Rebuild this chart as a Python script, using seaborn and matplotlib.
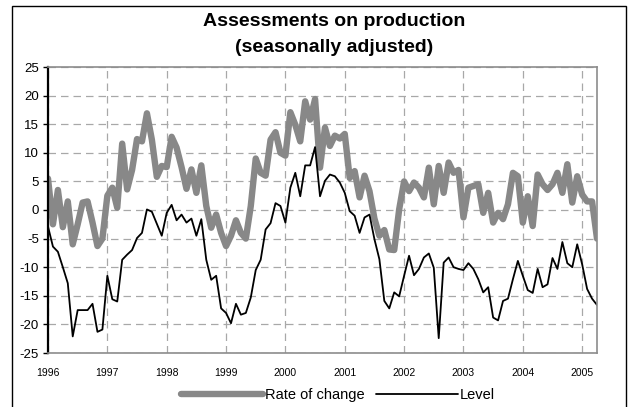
import numpy as np
import pandas as pd
import matplotlib
matplotlib.use("Agg")
import matplotlib.pyplot as plt
from matplotlib.patches import Rectangle
import seaborn as sns

# Monthly values, Jan 1996 .. Apr 2005
rate_of_change = [
    5.5, -2.5, 3.5, -3.0, 1.5, -6.0, -2.5, 1.3, 1.5, -2.2, -6.3, -5.0,   # 1996
    2.5, 3.9, 0.4, 11.6, 3.6, 7.0, 12.4, 12.0, 16.9, 12.3, 5.8, 7.7,     # 1997
    7.5, 12.8, 10.9, 7.5, 3.7, 7.1, 3.0, 7.8, 0.7, -3.1, -0.8, -4.0,     # 1998
    -6.3, -4.5, -1.8, -4.0, -5.0, 0.7, 9.0, 6.5, 6.0, 12.3, 13.6, 10.0,  # 1999
    9.5, 17.1, 14.9, 12.0, 19.0, 15.8, 19.4, 7.4, 14.4, 11.2, 13.0, 12.5,  # 2000
    13.3, 5.6, 6.8, 2.2, 6.0, 3.3, -1.5, -4.5, -3.5, -6.9, -7.0, 0.1,    # 2001
    5.0, 3.3, 4.8, 3.9, 2.2, 7.4, 1.0, 7.7, 3.0, 8.3, 6.5, 7.0,          # 2002
    -1.3, 3.9, 4.2, 4.5, -0.5, 3.0, -2.2, -0.5, -1.6, 1.0, 6.5, 5.9,     # 2003
    -2.2, 2.4, -2.8, 6.2, 4.5, 3.5, 4.5, 6.5, 3.0, 8.0, 1.3, 5.9,        # 2004
    2.7, 1.5, 1.5, -5.0,                                                 # 2005
]
level = [
    -2.9, -6.4, -7.3, -10.0, -12.8, -22.1, -17.5, -17.5, -17.5, -16.4, -21.3, -20.9,
    -11.5, -15.6, -16.0, -8.7, -7.8, -7.0, -4.9, -4.0, 0.1, -0.3, -2.4, -4.5,
    -0.5, 0.9, -1.8, -0.8, -2.2, -1.5, -4.5, -1.6, -8.7, -12.2, -11.5, -17.2,
    -18.0, -19.8, -16.4, -18.3, -18.0, -15.3, -10.5, -8.7, -3.4, -2.3, 1.2, 0.7,
    -2.2, 3.9, 6.5, 2.4, 7.8, 7.8, 11.0, 2.4, 5.1, 6.2, 5.9, 4.8,
    3.0, -0.2, -1.0, -4.0, -1.3, -0.8, -5.1, -8.6, -15.9, -17.2, -14.4, -15.1,
    -11.5, -8.0, -11.4, -10.3, -8.3, -7.6, -10.1, -22.4, -9.2, -8.3, -10.0, -10.3,
    -10.5, -9.3, -10.3, -12.1, -14.4, -13.5, -18.8, -19.3, -15.9, -15.5, -12.1, -8.9,
    -11.5, -14.0, -14.5, -10.3, -13.5, -13.0, -8.4, -10.3, -5.6, -9.3, -10.0, -6.0,
    -9.5, -13.8, -15.5, -16.6,
]
years = list(range(1996, 2006))
y_ticks = list(range(-25, 30, 5))

months = 1996 + np.arange(len(level)) / 12.0
df = pd.DataFrame({"t": months, "Rate of change": rate_of_change, "Level": level})

sns.set_style("white")
plt.rcParams["font.family"] = ["Liberation Sans", "DejaVu Sans"]
plt.rcParams["text.color"] = "black"
plt.rcParams["xtick.color"] = "black"
plt.rcParams["ytick.color"] = "black"

fig = plt.figure(figsize=(6.35, 4.07), dpi=100)
ax = fig.add_axes([48 / 635, 1 - 353 / 407, (597 - 48) / 635, (353 - 67) / 407])

sns.lineplot(data=df, x="t", y="Rate of change", ax=ax, color="#888888",
             linewidth=4.6, label="Rate of change")
sns.lineplot(data=df, x="t", y="Level", ax=ax, color="black",
             linewidth=1.3, label="Level")

ax.set_xlim(months[0], months[-1])
ax.set_ylim(-25, 25)
ax.set_xticks(years)
ax.set_xticklabels([str(y) for y in years], fontsize=7.5)
ax.set_yticks(y_ticks)
ax.set_yticklabels([str(v) for v in y_ticks], fontsize=9.5)
ax.set_xlabel("")
ax.set_ylabel("")
ax.grid(True, color="#a8a8a8", linestyle=(0, (6, 4)), linewidth=0.9)
ax.tick_params(axis="x", length=0, pad=11)
ax.tick_params(axis="y", length=3.5, width=1, color="black", pad=3, left=True)
for side in ["top", "right", "bottom"]:
    ax.spines[side].set_color("#8c8c8c")
    ax.spines[side].set_linewidth(1.2)
ax.spines["left"].set_color("black")
ax.spines["left"].set_linewidth(1.6)

ax.legend(loc="center", bbox_to_anchor=(338 / 635, 1 - 395 / 407),
          bbox_transform=fig.transFigure, ncol=2, frameon=False,
          fontsize=10.5, handlelength=5.6, handletextpad=0.15, columnspacing=0.8)

fig.text(334 / 635, 1 - 21 / 407, "Assessments on production", ha="center",
         va="center", fontsize=14, fontweight="bold")
fig.text(334 / 635, 1 - 48 / 407, "(seasonally adjusted)", ha="center",
         va="center", fontsize=14, fontweight="bold")

# outer frame of the chart object
fig.patches.append(Rectangle((12 / 635, -0.1), (626 - 12) / 635, 1.1 - 6 / 407,
                             transform=fig.transFigure, fill=False,
                             edgecolor="black", linewidth=1.0))

fig.savefig("out.png", dpi=100)
